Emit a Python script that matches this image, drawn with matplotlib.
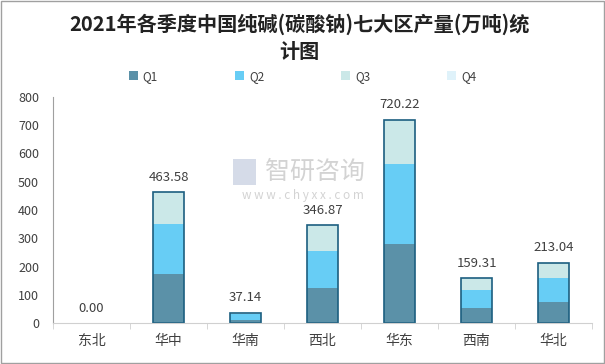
import numpy as np
import matplotlib.pyplot as plt
from matplotlib.patches import Rectangle

plt.rcParams['font.family'] = ['Noto Sans CJK SC', 'DejaVu Sans']

regions = ['东北', '华中', '华南', '西北', '华东', '西南', '华北']
q1 = [0, 174.0, 11.5, 125.0, 280.0, 53.0, 75.0]
q2 = [0, 177.0, 19.0, 130.0, 283.0, 64.5, 85.0]
q3 = [0, 112.58, 6.64, 91.87, 157.22, 41.81, 53.04]
q4 = [0, 0, 0, 0, 0, 0, 0]
totals = [0.00, 463.58, 37.14, 346.87, 720.22, 159.31, 213.04]
yticks = [0, 100, 200, 300, 400, 500, 600, 700, 800]

colors = ['#5b91a8', '#67cdf5', '#cbe8e8', '#dff2fa']
edge = '#1c5f80'

fig = plt.figure(figsize=(6.05, 3.64), dpi=100)
ax = fig.add_axes([0.0876, 0.1126, 0.891, 0.621])

x = np.arange(len(regions))
w = 0.4
bottom = np.zeros(len(regions))
for vals, c, name in zip([q1, q2, q3, q4], colors, ['Q1', 'Q2', 'Q3', 'Q4']):
    ax.bar(x, vals, w, bottom=bottom, color=c, label=name, linewidth=0)
    bottom += np.array(vals)

# outline of each stack
for i, t in enumerate(totals):
    if t > 0:
        ax.bar(x[i], t, w, fill=False, edgecolor=edge, linewidth=1.2)
    ax.text(x[i], t + 30, '%.2f' % t, ha='center', va='bottom', fontsize=9.5, color='#404040')

ax.set_xlim(-0.5, len(regions) - 0.5)
ax.set_ylim(0, 800)
ax.set_yticks(yticks)
ax.set_xticks(x)
ax.set_xticklabels(regions, fontsize=10, color='#404040')
ax.set_xticks(np.arange(-0.5, len(regions), 1), minor=True)
ax.tick_params(axis='x', which='major', length=0, pad=8)
ax.tick_params(axis='x', which='minor', length=4, color='#d0d0d0')
ax.tick_params(axis='y', length=0, labelsize=9, labelcolor='#404040', pad=10)
for s in ['top', 'right']:
    ax.spines[s].set_visible(False)
ax.spines['left'].set_color('#a0a0a0')
ax.spines['bottom'].set_color('#d0d0d0')

fig.text(0.495, 0.962, '2021年各季度中国纯碱(碳酸钠)七大区产量(万吨)统\n计图',
         ha='center', va='top', fontsize=14.5, fontweight='bold', color='#222222',
         linespacing=1.3)

fig.legend(loc='center', bbox_to_anchor=(0.5, 0.79), ncol=4, frameon=False,
           fontsize=8.5, handlelength=0.8, handleheight=0.8, columnspacing=6.5,
           handletextpad=0.4, labelcolor='#404040')

# watermark
fig.text(0.438, 0.527, '智研咨询', fontsize=18, color='#c8c8c8', ha='left', va='center', alpha=0.8)
fig.text(0.5, 0.463, 'w w w . c h y x x . c o m', fontsize=8.5, color='#c8c8c8', ha='center', va='center', alpha=0.8)
fig.add_artist(Rectangle((0.385, 0.492), 0.038, 0.07, transform=fig.transFigure,
                         facecolor='#cbd3e3', edgecolor='none', alpha=0.8))

fig.add_artist(Rectangle((0.001, 0.002), 0.997, 0.995, transform=fig.transFigure,
                         fill=False, edgecolor='#a0a0a0', linewidth=1))

plt.savefig('out.png', dpi=100)
